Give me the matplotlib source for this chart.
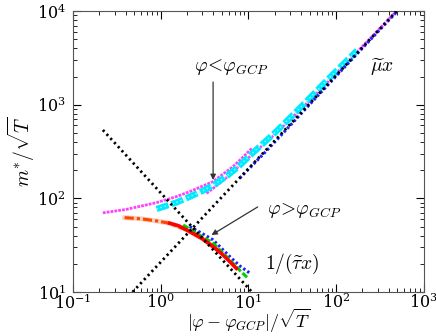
import matplotlib
matplotlib.use("Agg")
import matplotlib.pyplot as plt

plt.rcParams['mathtext.fontset'] = 'cm'
plt.rcParams['font.family'] = ['DejaVu Serif']

# asymptotes
mu_x = [0.48, 490]
mu_y = [10, 10000]
tau_x = [0.22, 11]
tau_y = [537, 10]

# phi < phi_GCP branch
mag1_x = [0.22, 0.4, 0.9, 1.5, 2.15, 3.0, 3.97, 5.0, 6.7, 8.5, 11.0]
mag1_y = [70, 76, 90, 104, 118, 135, 151, 178, 218, 270, 343]
mag2_x = [3.34, 4.5, 6.0, 8.0, 10.9, 17, 33.9, 60, 100, 200, 490]
mag2_y = [113, 140, 175, 225, 290, 420, 776, 1320, 2150, 4200, 10000]
cyan_x = [0.9, 1.5, 2.15, 3.0, 4.0, 6.0, 8.0, 11.0, 20, 40, 80, 174]
cyan_y = [77, 90, 104, 120, 138, 180, 225, 300, 500, 950, 1850, 3800]
blue1_x = [8, 15, 30, 60, 120, 250, 500]
blue1_y = [165, 300, 600, 1210, 2420, 5030, 10000]

# phi > phi_GCP branch
orange_x = [0.39, 0.6, 0.9, 1.27, 2.0, 3.0, 4.5]
orange_y = [62.2, 60.5, 57.4, 54.2, 46, 37, 28]
red_x = [1.27, 1.6, 2.15, 3.0, 3.97, 5.0, 6.15, 7.3]
red_y = [54.2, 51, 44.1, 37, 30.5, 25.5, 21.1, 17.9]
green_x = [1.81, 2.5, 3.97, 6.15, 8.0, 9.96]
green_y = [52, 43, 33.2, 22.0, 17, 14.0]
blue2_x = [2.15, 3.0, 3.97, 6.15, 8.0, 10.4]
blue2_y = [49.9, 42, 36, 23.9, 19, 15.9]

fig = plt.figure(figsize=(4.36, 3.36), dpi=100)
ax = fig.add_axes([0.167, 0.131, 0.805, 0.836])

dots = (0, (0.8, 1.2))
ax.plot(mu_x, mu_y, color='black', lw=2, ls=dots, zorder=4)
ax.plot(tau_x, tau_y, color='black', lw=2, ls=dots, zorder=4)

ax.plot(mag1_x, mag1_y, color='#ff40ff', lw=2.0, ls=(0, (1, 0.4)))
ax.plot(mag2_x, mag2_y, color='#ff40ff', lw=2.0, ls=(0, (1, 0.4)))
ax.plot(cyan_x, cyan_y, color='#00eaff', lw=4.5, ls=(0, (2, 0.5)))
ax.plot(cyan_x, cyan_y, color='#a0f8ff', lw=1.0, ls=(0, (1, 2)))
ax.plot(blue1_x, blue1_y, color='#2020ff', lw=2.2, ls=(0, (0.8, 0.8)), zorder=3)

ax.plot(orange_x, orange_y, color='#f0a080', lw=3.5, alpha=0.5)
ax.plot(orange_x, orange_y, color='#ff4500', lw=2.2, ls=(0, (3, 1, 1, 1)))
ax.plot(blue2_x, blue2_y, color='#2020ff', lw=2.2, ls=(0, (0.8, 0.8)))
ax.plot(green_x, green_y, color='#00d000', lw=2.2, ls=(0, (2, 0.8)))
ax.plot(red_x, red_y, color='#ff0000', lw=2.6)

ax.set_xscale('log')
ax.set_yscale('log')
ax.set_xlim(0.1, 1000)
ax.set_ylim(10, 10000)

ax.tick_params(which='both', direction='in', top=True, right=True, labelsize=11.5)
ax.tick_params(axis='x', which='both', pad=1)
ax.tick_params(axis='y', which='both', pad=5)
ax.tick_params(which='major', length=6)
ax.tick_params(which='minor', length=3)
for s in ax.spines.values():
    s.set_color('#555555')

ax.set_xlabel(r'$|\varphi-\varphi_{GCP}|/\sqrt{T}$', fontsize=13, va='bottom')
ax.xaxis.set_label_coords(0.5, -0.152)
ax.set_ylabel(r'$m^{*}/\sqrt{T}$', fontsize=14, labelpad=0)

# arrows and their labels
ax.annotate('', xy=(3.97, 157), xytext=(3.97, 1746),
            arrowprops=dict(arrowstyle='-|>', color='#333333', lw=0.9,
                            shrinkA=0, shrinkB=0, mutation_scale=8))
ax.text(6.3, 2000, r'$\varphi\!<\!\varphi_{GCP}$', fontsize=14, ha='center', va='bottom')
ax.annotate('', xy=(3.81, 40.6), xytext=(12.8, 81),
            arrowprops=dict(arrowstyle='-|>', color='#333333', lw=0.9,
                            shrinkA=0, shrinkB=0, mutation_scale=8))
ax.text(16.3, 75, r'$\varphi\!>\!\varphi_{GCP}$', fontsize=14, ha='left', va='center')
ax.text(333, 2520, r'$\widetilde{\mu}x$', fontsize=14, ha='center', va='center')
ax.text(32, 20, r'$1/(\widetilde{\tau}x)$', fontsize=14, ha='center', va='center')

fig.savefig('out.png', dpi=100)
